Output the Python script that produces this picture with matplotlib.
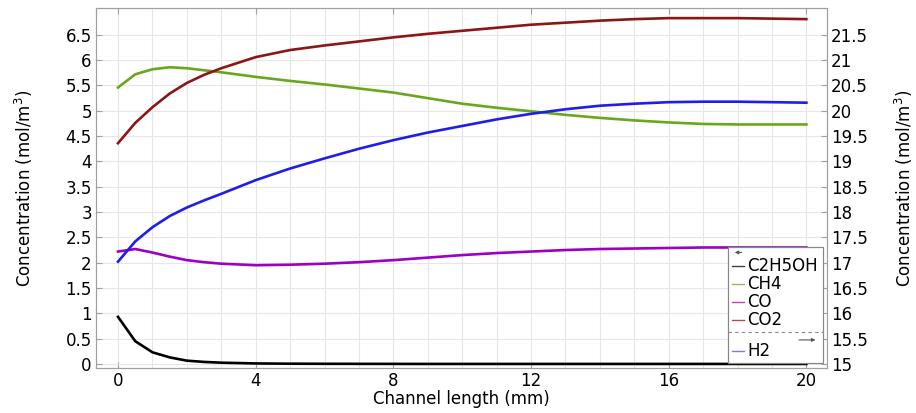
import matplotlib
matplotlib.use("Agg")
import matplotlib.pyplot as plt
import numpy as np

# channel position (mm)
x = [0, 0.5, 1, 1.5, 2, 2.5, 3, 4, 5, 6, 7, 8, 9, 10, 11, 12, 13, 14, 15, 16, 17, 18, 19, 20]

# left axis species (mol/m^3)
c2h5oh = [0.93, 0.45, 0.23, 0.13, 0.065, 0.04, 0.025, 0.01, 0.005, 0.003, 0.002, 0.001, 0, 0, 0, 0, 0, 0, 0, 0, 0, 0, 0, 0]
ch4 = [5.46, 5.72, 5.82, 5.86, 5.84, 5.80, 5.76, 5.67, 5.59, 5.52, 5.44, 5.36, 5.25, 5.14, 5.06, 4.99, 4.92, 4.86, 4.81, 4.77, 4.74, 4.73, 4.73, 4.73]
co = [2.22, 2.27, 2.20, 2.12, 2.05, 2.01, 1.98, 1.95, 1.96, 1.98, 2.01, 2.05, 2.10, 2.15, 2.19, 2.22, 2.25, 2.27, 2.28, 2.29, 2.30, 2.30, 2.30, 2.30]
co2 = [4.36, 4.76, 5.07, 5.34, 5.55, 5.71, 5.84, 6.06, 6.20, 6.29, 6.37, 6.45, 6.52, 6.58, 6.64, 6.70, 6.74, 6.78, 6.81, 6.83, 6.83, 6.83, 6.82, 6.81]

# right axis species (mol/m^3)
h2 = [17.02, 17.42, 17.70, 17.92, 18.09, 18.23, 18.36, 18.63, 18.86, 19.06, 19.25, 19.42, 19.57, 19.70, 19.83, 19.94, 20.03, 20.10, 20.14, 20.17, 20.18, 20.18, 20.17, 20.16]

left_names = ["C2H5OH", "CH4", "CO", "CO2"]
left_colors = ["#000000", "#6aa61e", "#9a00c6", "#8a1616"]
h2_color = "#1e1ee8"

frame_col = "#a0a0a0"
grid_col = "#e6e6e6"
fs = 12

fig = plt.figure(figsize=(9.16, 4.13), dpi=100)
ax = fig.add_axes([96 / 916, 45 / 413, 731 / 916, 360 / 413])

for vals, col in zip([c2h5oh, ch4, co, co2], left_colors):
    ax.plot(x, vals, color=col, lw=1.9, zorder=3)

ax.set_xlim(-0.64, 20.6)
ax.set_ylim(-0.08, 7.03)
ax.set_xticks(np.arange(0, 21, 4))
ax.set_xticks(np.arange(0, 21, 1), minor=True)
ax.set_yticks(np.arange(0, 6.6, 0.5))
ax.set_yticklabels(["0", "0.5", "1", "1.5", "2", "2.5", "3", "3.5", "4", "4.5", "5", "5.5", "6", "6.5"])
ax.grid(True, which="both", color=grid_col, lw=0.8, zorder=0)
ax.tick_params(direction="in", length=4, color=frame_col, labelsize=fs, top=True, pad=3)
ax.tick_params(which="minor", length=0, top=True)
for sp in ax.spines.values():
    sp.set_color(frame_col)
ax.set_xlabel("Channel length (mm)", fontsize=fs, labelpad=0)
ax.set_ylabel("Concentration (mol/m$^3$)", fontsize=fs, labelpad=22)

ax2 = ax.twinx()
ax2.plot(x, h2, color=h2_color, lw=1.9, zorder=3)
ax2.set_ylim(14.92, 22.03)
ax2.set_yticks(np.arange(15, 21.6, 0.5))
ax2.set_yticklabels([f"{v:g}" for v in np.arange(15, 21.6, 0.5)])
ax2.tick_params(direction="in", length=4, color=frame_col, labelsize=fs, pad=3)
for sp in ax2.spines.values():
    sp.set_color(frame_col)
ax2.set_ylabel("Concentration (mol/m$^3$)", fontsize=fs, labelpad=18)

# custom legend box (left-axis group, dashed separator, right-axis group)
T = ax2.transAxes
box = plt.Rectangle((0.865, 0.013), 0.129, 0.324, transform=T, facecolor="white",
                    edgecolor="#888888", lw=0.9, zorder=10)
ax2.add_patch(box)
ax2.annotate("", xy=(0.870, 0.321), xytext=(0.887, 0.321), xycoords=T, textcoords=T,
             arrowprops=dict(arrowstyle="-|>", color="#555555", lw=0.8, mutation_scale=5), zorder=11)
ys = [0.282, 0.232, 0.183, 0.134]
for name, col, yy in zip(left_names, left_colors, ys):
    ax2.plot([0.870, 0.886], [yy, yy], transform=T, color=col, lw=1.0, alpha=0.75, zorder=11)
    ax2.text(0.891, yy, name, transform=T, fontsize=fs, va="center", ha="left", zorder=11)
ax2.plot([0.865, 0.994], [0.099, 0.099], transform=T, color="#888888", lw=0.8, ls=(0, (3, 3)), zorder=11)
ax2.annotate("", xy=(0.988, 0.078), xytext=(0.958, 0.078), xycoords=T, textcoords=T,
             arrowprops=dict(arrowstyle="-|>", color="#555555", lw=0.8, mutation_scale=5), zorder=11)
ax2.plot([0.870, 0.886], [0.046, 0.046], transform=T, color=h2_color, lw=1.0, alpha=0.6, zorder=11)
ax2.text(0.891, 0.046, "H2", transform=T, fontsize=fs, va="center", ha="left", zorder=11)

fig.savefig("out.png", dpi=100)
